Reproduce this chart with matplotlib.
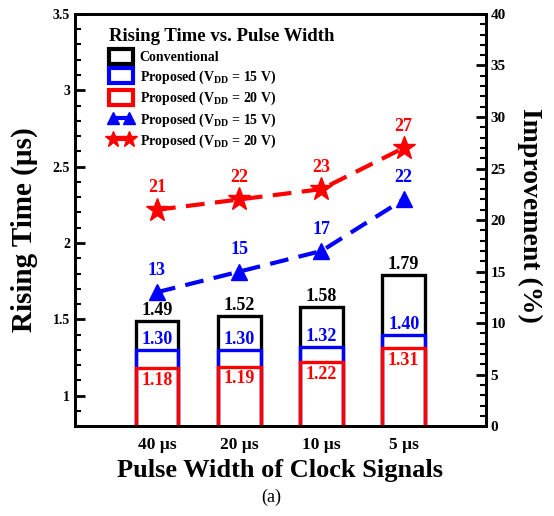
import matplotlib
matplotlib.use("Agg")
import matplotlib.pyplot as plt
from matplotlib.patches import Patch
from matplotlib.lines import Line2D
from matplotlib.ticker import MultipleLocator
import numpy as np

# datos
categorias = ["40 \u00b5s", "20 \u00b5s", "10 \u00b5s", "5 \u00b5s"]
conv = [1.49, 1.52, 1.58, 1.79]
prop15 = [1.30, 1.30, 1.32, 1.40]
prop20 = [1.18, 1.19, 1.22, 1.31]
mejora15 = [13, 15, 17, 22]
mejora20 = [21, 22, 23, 27]

params = {'font.family': 'Liberation Serif',
          'font.weight': 'bold',
          'axes.labelweight': 'bold',
          'mathtext.fontset': 'custom',
          'mathtext.rm': 'Liberation Serif:bold',
          'mathtext.bf': 'Liberation Serif:bold',
          'axes.linewidth': 2.0}
matplotlib.rcParams.update(params)

fig = plt.figure(figsize=(5.54, 5.16), dpi=100, facecolor='w')
ax = fig.add_axes([0.135, 0.174, 0.742, 0.799])
x = np.arange(len(categorias))
w = 0.52
lw = 2.4

# barras sin relleno
ax.bar(x, conv, w, facecolor='none', edgecolor='k', linewidth=lw, zorder=2)
ax.bar(x, prop15, w, facecolor='none', edgecolor='b', linewidth=lw, zorder=3)
ax.bar(x, prop20, w, facecolor='none', edgecolor='r', linewidth=lw, zorder=4)

for i in range(len(x)):
    ax.text(x[i], conv[i] + 0.012, "%.2f" % conv[i], color='k', ha='center', va='bottom', fontsize=13)
    ax.text(x[i], prop15[i] + 0.012, "%.2f" % prop15[i], color='b', ha='center', va='bottom', fontsize=13)
    ax.text(x[i], prop20[i] - 0.025, "%.2f" % prop20[i], color='r', ha='center', va='top', fontsize=13)

ax.set_xlim(-1, 4)
ax.set_ylim(0.8, 3.5)
ax.set_xticks(x)
ax.set_xticklabels(categorias, fontsize=12.5)
ax.tick_params(axis='x', length=0, pad=8)
ax.yaxis.set_minor_locator(MultipleLocator(0.1))
ax.set_yticks([1, 1.5, 2, 2.5, 3, 3.5])
ax.set_yticklabels(['1', '1.5', '2', '2.5', '3', '3.5'])
ax.tick_params(axis='y', which='major', direction='in', length=7, width=2, labelsize=10)
ax.tick_params(axis='y', which='minor', direction='in', length=4, width=1.5)
ax.set_ylabel("Rising Time (\u00b5s)", fontsize=21)
ax.yaxis.set_label_coords(-0.09, 0.476)
ax.set_xlabel("Pulse Width of Clock Signals", fontsize=19, labelpad=4)

# eje derecho
ax2 = ax.twinx()
ax2.set_ylim(0, 40)
ax2.yaxis.set_major_locator(MultipleLocator(5))
ax2.yaxis.set_minor_locator(MultipleLocator(1))
ax2.tick_params(axis='y', which='major', direction='in', length=7, width=2, labelsize=11)
ax2.tick_params(axis='y', which='minor', direction='in', length=4, width=1.5)
ax2.plot(x, mejora15, 'b--', marker='^', markersize=12, linewidth=3, dashes=(4.5, 2.5))
ax2.plot(x, mejora20, 'r--', marker='*', markersize=17, linewidth=3, dashes=(4.5, 2.5))
for i in range(len(x)):
    ax2.text(x[i], mejora15[i] + 1.3, "%d" % mejora15[i], color='b', ha='center', va='bottom', fontsize=13)
    ax2.text(x[i], mejora20[i] + 1.3, "%d" % mejora20[i], color='r', ha='center', va='bottom', fontsize=13)
ax2.set_ylabel("Improvement (%)", fontsize=20, rotation=270)
ax2.yaxis.set_label_coords(1.136, 0.512)

# leyenda
handles = [Patch(facecolor='none', edgecolor='k', linewidth=3),
           Patch(facecolor='none', edgecolor='b', linewidth=3),
           Patch(facecolor='none', edgecolor='r', linewidth=3),
           Line2D([], [], color='b', linestyle='--', marker='^', markersize=9, linewidth=3),
           Line2D([], [], color='r', linestyle='--', marker='*', markersize=12, linewidth=3)]
labels = ["Conventional",
          r"Proposed (V$_{\mathrm{DD}}$ = 15 V)",
          r"Proposed (V$_{\mathrm{DD}}$ = 20 V)",
          r"Proposed (V$_{\mathrm{DD}}$ = 15 V)",
          r"Proposed (V$_{\mathrm{DD}}$ = 20 V)"]
leg = ax2.legend(handles, labels, loc='upper left', bbox_to_anchor=(0.06, 0.99),
                 frameon=False, fontsize=10, title="Rising Time vs. Pulse Width",
                 title_fontsize=13.5, handlelength=1.7, handleheight=1.3, numpoints=2,
                 labelspacing=0.3, handletextpad=0.5, borderaxespad=0.3)
leg._legend_box.align = "left"

fig.text(0.49, 0.027, "(a)", fontsize=13, fontweight='normal', ha='center')

plt.savefig("out.png", dpi=100)
